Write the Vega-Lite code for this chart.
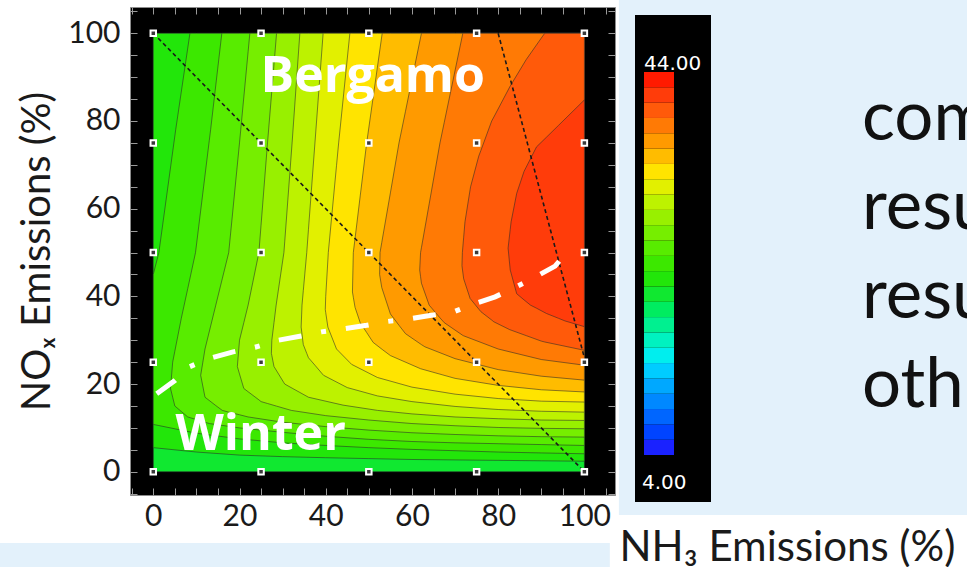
{
  "$schema": "https://vega.github.io/schema/vega-lite/v6.json",
  "width": 485,
  "height": 488,
  "autosize": {"type": "none"},
  "padding": {"left": 130, "top": 7, "right": 352, "bottom": 72},
  "background": "white",
  "view": {"fill": "black", "stroke": "#8c8c8c", "strokeWidth": 1},
  "resolve": {"axis": {"x": "independent", "y": "independent"}},
  "datasets": {
    "bands": [
      {"v": 20.8, "x": 0, "lo": 0, "hi": 100}, {"v": 20.8, "x": 100, "lo": 0, "hi": 100},
      {"v": 22.4, "x": 0, "lo": 5.5, "hi": 100}, {"v": 22.4, "x": 10, "lo": 4.5, "hi": 100}, {"v": 22.4, "x": 20, "lo": 3.8, "hi": 100}, {"v": 22.4, "x": 30, "lo": 3.45, "hi": 100}, {"v": 22.4, "x": 40, "lo": 3.2, "hi": 100}, {"v": 22.4, "x": 50, "lo": 3.0, "hi": 100}, {"v": 22.4, "x": 60, "lo": 2.8, "hi": 100}, {"v": 22.4, "x": 70, "lo": 2.7, "hi": 100}, {"v": 22.4, "x": 80, "lo": 2.6, "hi": 100}, {"v": 22.4, "x": 90, "lo": 2.5, "hi": 100}, {"v": 22.4, "x": 100, "lo": 2.4, "hi": 100},
      {"v": 24.0, "x": 0, "lo": 10.8, "hi": 45}, {"v": 24.0, "x": 1.3, "lo": 10.54, "hi": 50}, {"v": 24.0, "x": 5.2, "lo": 9.76, "hi": 78}, {"v": 24.0, "x": 8.5, "lo": 9.1, "hi": 100}, {"v": 24.0, "x": 10, "lo": 8.8, "hi": 100}, {"v": 24.0, "x": 20, "lo": 7.5, "hi": 100}, {"v": 24.0, "x": 30, "lo": 6.6, "hi": 100}, {"v": 24.0, "x": 40, "lo": 6.0, "hi": 100}, {"v": 24.0, "x": 50, "lo": 5.5, "hi": 100}, {"v": 24.0, "x": 60, "lo": 5.1, "hi": 100}, {"v": 24.0, "x": 70, "lo": 4.8, "hi": 100}, {"v": 24.0, "x": 80, "lo": 4.5, "hi": 100}, {"v": 24.0, "x": 90, "lo": 4.3, "hi": 100}, {"v": 24.0, "x": 100, "lo": 4.1, "hi": 100},
      {"v": 25.6, "x": 4.0, "lo": 19, "hi": 19}, {"v": 25.6, "x": 4.5, "lo": 17, "hi": 25}, {"v": 25.6, "x": 5, "lo": 15, "hi": 27.5}, {"v": 25.6, "x": 6.5, "lo": 13.75, "hi": 35}, {"v": 25.6, "x": 8, "lo": 12.5, "hi": 41.8}, {"v": 25.6, "x": 9.8, "lo": 11.96, "hi": 50}, {"v": 25.6, "x": 13, "lo": 11, "hi": 75.6}, {"v": 25.6, "x": 13.3, "lo": 10.96, "hi": 78}, {"v": 25.6, "x": 15.9, "lo": 10.59, "hi": 100}, {"v": 25.6, "x": 20, "lo": 10, "hi": 100}, {"v": 25.6, "x": 30, "lo": 9.0, "hi": 100}, {"v": 25.6, "x": 40, "lo": 8.1, "hi": 100}, {"v": 25.6, "x": 50, "lo": 7.4, "hi": 100}, {"v": 25.6, "x": 60, "lo": 6.9, "hi": 100}, {"v": 25.6, "x": 70, "lo": 6.6, "hi": 100}, {"v": 25.6, "x": 80, "lo": 6.4, "hi": 100}, {"v": 25.6, "x": 90, "lo": 6.2, "hi": 100}, {"v": 25.6, "x": 100, "lo": 6.0, "hi": 100},
      {"v": 27.2, "x": 11, "lo": 22, "hi": 22}, {"v": 27.2, "x": 12, "lo": 17, "hi": 28}, {"v": 27.2, "x": 14.5, "lo": 15.1, "hi": 38}, {"v": 27.2, "x": 16, "lo": 14, "hi": 44}, {"v": 27.2, "x": 17.5, "lo": 13.6, "hi": 50}, {"v": 27.2, "x": 20, "lo": 13, "hi": 75}, {"v": 27.2, "x": 22, "lo": 12.5, "hi": 95.8}, {"v": 27.2, "x": 22.4, "lo": 12.44, "hi": 100}, {"v": 27.2, "x": 30, "lo": 11.3, "hi": 100}, {"v": 27.2, "x": 40, "lo": 10.3, "hi": 100}, {"v": 27.2, "x": 50, "lo": 9.5, "hi": 100}, {"v": 27.2, "x": 60, "lo": 8.9, "hi": 100}, {"v": 27.2, "x": 70, "lo": 8.5, "hi": 100}, {"v": 27.2, "x": 80, "lo": 8.2, "hi": 100}, {"v": 27.2, "x": 90, "lo": 8.0, "hi": 100}, {"v": 27.2, "x": 100, "lo": 7.9, "hi": 100},
      {"v": 28.8, "x": 19.5, "lo": 24, "hi": 24}, {"v": 28.8, "x": 20, "lo": 22.3, "hi": 30}, {"v": 28.8, "x": 21, "lo": 19, "hi": 34}, {"v": 28.8, "x": 22, "lo": 18.25, "hi": 38}, {"v": 28.8, "x": 24.5, "lo": 16.4, "hi": 50}, {"v": 28.8, "x": 25, "lo": 16, "hi": 56.25}, {"v": 28.8, "x": 26.5, "lo": 15.57, "hi": 75}, {"v": 28.8, "x": 28.6, "lo": 14.97, "hi": 100}, {"v": 28.8, "x": 32, "lo": 14, "hi": 100}, {"v": 28.8, "x": 40, "lo": 12.8, "hi": 100}, {"v": 28.8, "x": 50, "lo": 11.8, "hi": 100}, {"v": 28.8, "x": 60, "lo": 11.0, "hi": 100}, {"v": 28.8, "x": 70, "lo": 10.5, "hi": 100}, {"v": 28.8, "x": 80, "lo": 10.1, "hi": 100}, {"v": 28.8, "x": 90, "lo": 9.9, "hi": 100}, {"v": 28.8, "x": 100, "lo": 9.8, "hi": 100},
      {"v": 30.4, "x": 27.4, "lo": 27, "hi": 27}, {"v": 30.4, "x": 27.5, "lo": 26.5, "hi": 30}, {"v": 30.4, "x": 28, "lo": 24, "hi": 34}, {"v": 30.4, "x": 28.5, "lo": 23.2, "hi": 38}, {"v": 30.4, "x": 30.3, "lo": 20.3, "hi": 50}, {"v": 30.4, "x": 30.5, "lo": 20, "hi": 52.6}, {"v": 30.4, "x": 32.2, "lo": 19.07, "hi": 75}, {"v": 30.4, "x": 34, "lo": 18.09, "hi": 100}, {"v": 30.4, "x": 36, "lo": 17, "hi": 100}, {"v": 30.4, "x": 44, "lo": 15.2, "hi": 100}, {"v": 30.4, "x": 52, "lo": 14, "hi": 100}, {"v": 30.4, "x": 60, "lo": 13.2, "hi": 100}, {"v": 30.4, "x": 70, "lo": 12.5, "hi": 100}, {"v": 30.4, "x": 80, "lo": 12.1, "hi": 100}, {"v": 30.4, "x": 90, "lo": 11.8, "hi": 100}, {"v": 30.4, "x": 100, "lo": 11.7, "hi": 100},
      {"v": 32.0, "x": 34.3, "lo": 33, "hi": 33}, {"v": 32.0, "x": 34.5, "lo": 31.4, "hi": 38}, {"v": 32.0, "x": 34.8, "lo": 29, "hi": 41.3}, {"v": 32.0, "x": 35.6, "lo": 27, "hi": 50}, {"v": 32.0, "x": 36, "lo": 26, "hi": 55.3}, {"v": 32.0, "x": 37.5, "lo": 24.3, "hi": 75}, {"v": 32.0, "x": 39.4, "lo": 22.1, "hi": 100}, {"v": 32.0, "x": 39.5, "lo": 22, "hi": 100}, {"v": 32.0, "x": 45, "lo": 19.2, "hi": 100}, {"v": 32.0, "x": 52, "lo": 17.3, "hi": 100}, {"v": 32.0, "x": 60, "lo": 16, "hi": 100}, {"v": 32.0, "x": 70, "lo": 14.9, "hi": 100}, {"v": 32.0, "x": 80, "lo": 14.2, "hi": 100}, {"v": 32.0, "x": 90, "lo": 13.8, "hi": 100}, {"v": 32.0, "x": 100, "lo": 13.6, "hi": 100},
      {"v": 33.6, "x": 39.9, "lo": 37, "hi": 37}, {"v": 33.6, "x": 40, "lo": 36.3, "hi": 40}, {"v": 33.6, "x": 40.5, "lo": 33, "hi": 48.3}, {"v": 33.6, "x": 40.6, "lo": 32.75, "hi": 50}, {"v": 33.6, "x": 42.5, "lo": 28, "hi": 69.8}, {"v": 33.6, "x": 43, "lo": 27.5, "hi": 75}, {"v": 33.6, "x": 45.6, "lo": 24.9, "hi": 100}, {"v": 33.6, "x": 46, "lo": 24.5, "hi": 100}, {"v": 33.6, "x": 52, "lo": 21.5, "hi": 100}, {"v": 33.6, "x": 60, "lo": 19.3, "hi": 100}, {"v": 33.6, "x": 70, "lo": 17.7, "hi": 100}, {"v": 33.6, "x": 80, "lo": 16.7, "hi": 100}, {"v": 33.6, "x": 90, "lo": 16.1, "hi": 100}, {"v": 33.6, "x": 100, "lo": 15.9, "hi": 100},
      {"v": 35.2, "x": 46.2, "lo": 41, "hi": 41}, {"v": 35.2, "x": 46.4, "lo": 39.8, "hi": 50}, {"v": 35.2, "x": 46.8, "lo": 37.5, "hi": 53.2}, {"v": 35.2, "x": 48, "lo": 34, "hi": 62.9}, {"v": 35.2, "x": 49.5, "lo": 31.75, "hi": 75}, {"v": 35.2, "x": 51, "lo": 29.5, "hi": 85.4}, {"v": 35.2, "x": 53.1, "lo": 27.9, "hi": 100}, {"v": 35.2, "x": 55, "lo": 26.5, "hi": 100}, {"v": 35.2, "x": 62, "lo": 23.5, "hi": 100}, {"v": 35.2, "x": 70, "lo": 21.3, "hi": 100}, {"v": 35.2, "x": 80, "lo": 19.7, "hi": 100}, {"v": 35.2, "x": 90, "lo": 18.7, "hi": 100}, {"v": 35.2, "x": 100, "lo": 18.2, "hi": 100},
      {"v": 36.8, "x": 52.5, "lo": 45, "hi": 45}, {"v": 36.8, "x": 52.6, "lo": 44.4, "hi": 50}, {"v": 36.8, "x": 53, "lo": 42, "hi": 52.3}, {"v": 36.8, "x": 55, "lo": 36, "hi": 63.6}, {"v": 36.8, "x": 57, "lo": 33.4, "hi": 75}, {"v": 36.8, "x": 58.5, "lo": 31.5, "hi": 82.2}, {"v": 36.8, "x": 62.2, "lo": 29.0, "hi": 100}, {"v": 36.8, "x": 63, "lo": 28.5, "hi": 100}, {"v": 36.8, "x": 70, "lo": 25.8, "hi": 100}, {"v": 36.8, "x": 80, "lo": 23.3, "hi": 100}, {"v": 36.8, "x": 90, "lo": 21.8, "hi": 100}, {"v": 36.8, "x": 100, "lo": 20.9, "hi": 100},
      {"v": 38.4, "x": 61.8, "lo": 46, "hi": 46}, {"v": 38.4, "x": 62, "lo": 44.5, "hi": 50}, {"v": 38.4, "x": 62.2, "lo": 43, "hi": 51.1}, {"v": 38.4, "x": 64, "lo": 38, "hi": 61.1}, {"v": 38.4, "x": 66.5, "lo": 35.1, "hi": 75}, {"v": 38.4, "x": 67.5, "lo": 34, "hi": 79.7}, {"v": 38.4, "x": 71.8, "lo": 31.1, "hi": 100}, {"v": 38.4, "x": 72, "lo": 31, "hi": 100}, {"v": 38.4, "x": 80, "lo": 28, "hi": 100}, {"v": 38.4, "x": 90, "lo": 25.6, "hi": 100}, {"v": 38.4, "x": 100, "lo": 24.3, "hi": 100},
      {"v": 40.0, "x": 71.6, "lo": 47, "hi": 47}, {"v": 40.0, "x": 71.7, "lo": 46.25, "hi": 50}, {"v": 40.0, "x": 72, "lo": 44, "hi": 53.5}, {"v": 40.0, "x": 72.3, "lo": 43.1, "hi": 57}, {"v": 40.0, "x": 73.5, "lo": 39.5, "hi": 64.4}, {"v": 40.0, "x": 73.6, "lo": 39.4, "hi": 65}, {"v": 40.0, "x": 75.5, "lo": 37.1, "hi": 72}, {"v": 40.0, "x": 76, "lo": 36.5, "hi": 73.3}, {"v": 40.0, "x": 78.5, "lo": 34.6, "hi": 80}, {"v": 40.0, "x": 79, "lo": 34.2, "hi": 80.9}, {"v": 40.0, "x": 82.7, "lo": 32.4, "hi": 87.8}, {"v": 40.0, "x": 83, "lo": 32.3, "hi": 88.3}, {"v": 40.0, "x": 86.5, "lo": 31.05, "hi": 94}, {"v": 40.0, "x": 90, "lo": 29.8, "hi": 98.9}, {"v": 40.0, "x": 90.8, "lo": 29.6, "hi": 100}, {"v": 40.0, "x": 100, "lo": 27.7, "hi": 100},
      {"v": 41.6, "x": 82.3, "lo": 51, "hi": 51}, {"v": 41.6, "x": 82.8, "lo": 46, "hi": 55.3}, {"v": 41.6, "x": 83, "lo": 45.3, "hi": 57}, {"v": 41.6, "x": 84.3, "lo": 40.6, "hi": 63.5}, {"v": 41.6, "x": 86, "lo": 39.2, "hi": 68.5}, {"v": 41.6, "x": 87.5, "lo": 38, "hi": 71.4}, {"v": 41.6, "x": 88.9, "lo": 37.3, "hi": 74.1}, {"v": 41.6, "x": 91.2, "lo": 36.1, "hi": 76.3}, {"v": 41.6, "x": 94, "lo": 35.0, "hi": 79}, {"v": 41.6, "x": 95.5, "lo": 34.4, "hi": 80.45}, {"v": 41.6, "x": 100, "lo": 33.1, "hi": 84.8}
    ],
    "dashed": [
      {"id": "a", "x": 0, "y": 100}, {"id": "a", "x": 100, "y": 0},
      {"id": "b", "x": 80, "y": 100}, {"id": "b", "x": 100, "y": 26}
    ],
    "ridge": [
      {"x": 0.8, "y": 17.8}, {"x": 5, "y": 20.8}, {"x": 8.3, "y": 23.9}, {"x": 12.9, "y": 25.8}, {"x": 18.3, "y": 27.3}, {"x": 23.6, "y": 28.4}, {"x": 29, "y": 30}, {"x": 34, "y": 30.9}, {"x": 39, "y": 31.9}, {"x": 44, "y": 32.6}, {"x": 49.5, "y": 33.4}, {"x": 54.5, "y": 34.3}, {"x": 59.5, "y": 34.9}, {"x": 64.5, "y": 35.7}, {"x": 69.5, "y": 36.4}, {"x": 74.7, "y": 38.4}, {"x": 79.3, "y": 39.9}, {"x": 83.8, "y": 42}, {"x": 88.6, "y": 44.4}, {"x": 93.2, "y": 46.9}, {"x": 96.5, "y": 50.8}
    ],
    "runs": [
      {"x": 0, "y": 0}, {"x": 0, "y": 25}, {"x": 0, "y": 50}, {"x": 0, "y": 75}, {"x": 0, "y": 100},
      {"x": 25, "y": 0}, {"x": 25, "y": 25}, {"x": 25, "y": 50}, {"x": 25, "y": 75}, {"x": 25, "y": 100},
      {"x": 50, "y": 0}, {"x": 50, "y": 25}, {"x": 50, "y": 50}, {"x": 50, "y": 75}, {"x": 50, "y": 100},
      {"x": 75, "y": 0}, {"x": 75, "y": 25}, {"x": 75, "y": 50}, {"x": 75, "y": 75}, {"x": 75, "y": 100},
      {"x": 100, "y": 0}, {"x": 100, "y": 25}, {"x": 100, "y": 50}, {"x": 100, "y": 75}, {"x": 100, "y": 100}
    ],
    "names": [
      {"t": "Bergamo", "x": 50.9, "y": 86.7},
      {"t": "Winter", "x": 24.9, "y": 4.9}
    ],
    "slide": [
      {"t": "com", "x": 164.4, "y": 75.7},
      {"t": "resu", "x": 164.4, "y": 55.4},
      {"t": "resu", "x": 164.4, "y": 35.1},
      {"t": "oth", "x": 164.4, "y": 14.8}
    ]
  },
  "layer": [
    {
      "data": {"name": "bands"},
      "mark": {"type": "area", "stroke": "#2a2a2a", "strokeWidth": 0.8, "strokeOpacity": 0.7, "fillOpacity": 1},
      "encoding": {
        "x": {
          "field": "x", "type": "quantitative",
          "scale": {"domain": [-5.4, 107.1], "nice": false, "zero": false},
          "axis": {
            "title": "NH₃ Emissions (%)",
            "values": [-5, 0, 5, 10, 15, 20, 25, 30, 35, 40, 45, 50, 55, 60, 65, 70, 75, 80, 85, 90, 95, 100, 105],
            "labelExpr": "(datum.value == 0 || datum.value == 20 || datum.value == 40 || datum.value == 60 || datum.value == 80 || datum.value == 100) ? datum.label : ''",
            "offset": -7, "tickSize": 7, "tickColor": "#9a9a9a", "tickWidth": 1,
            "domain": false, "grid": false, "labelOverlap": false, "labelFlush": false,
            "labelFont": "Lato", "labelFontSize": 30, "labelColor": "#1a1a1a", "labelPadding": 6,
            "titleFont": "Lato", "titleFontSize": 42, "titleFontWeight": "normal", "titleColor": "#1a1a1a",
            "titleAlign": "left", "titleBaseline": "alphabetic", "titleAnchor": "start", "titleX": 489, "titleY": 72
          }
        },
        "y": {
          "field": "lo", "type": "quantitative",
          "scale": {"domain": [-5.3, 106.0], "nice": false, "zero": false},
          "axis": {
            "title": "NOₓ Emissions (%)",
            "values": [-5, 0, 5, 10, 15, 20, 25, 30, 35, 40, 45, 50, 55, 60, 65, 70, 75, 80, 85, 90, 95, 100, 105],
            "labelExpr": "(datum.value == 0 || datum.value == 20 || datum.value == 40 || datum.value == 60 || datum.value == 80 || datum.value == 100) ? datum.label : ''",
            "offset": -7, "tickSize": 7, "tickColor": "#9a9a9a", "tickWidth": 1,
            "domain": false, "grid": false, "labelOverlap": false, "labelFlush": false,
            "labelFont": "Lato", "labelFontSize": 30, "labelColor": "#1a1a1a", "labelPadding": 10,
            "titleFont": "Lato", "titleFontSize": 40, "titleFontWeight": "normal", "titleColor": "#1a1a1a",
            "titlePadding": 10
          }
        },
        "y2": {"field": "hi"},
        "color": {
          "field": "v", "type": "quantitative",
          "scale": {
            "type": "quantize", "domain": [4, 44],
            "range": ["#1a22ff", "#0044ff", "#0066ff", "#0088ff", "#00a8ff", "#00ccff", "#00eeee", "#00f2c0", "#00f090", "#00ec60", "#10e830", "#22e60a", "#3ce800", "#58ec00", "#76ee00", "#98f000", "#bdf200", "#e2f000", "#ffe400", "#ffbc00", "#ff9a00", "#ff7a05", "#ff5a0a", "#ff3c0a", "#ff1a00"]
          },
          "legend": {
            "type": "gradient", "orient": "none", "legendX": 505, "legendY": 8, "direction": "vertical",
            "gradientLength": 383, "gradientThickness": 30, "gradientStrokeWidth": 0,
            "fillColor": "black", "padding": 9,
            "title": [" ", " ", "44.00"],
            "titleColor": "white", "titleFont": "DejaVu Sans", "titleFontSize": 20, "titleFontWeight": "normal",
            "titleLineHeight": 30, "titlePadding": -32,
            "labelExpr": "datum.value < 5 ? '4.00' : ''",
            "labelColor": "white", "labelFont": "DejaVu Sans", "labelFontSize": 20,
            "labelOffset": -32, "labelOverlap": false,
            "encode": {"labels": {"update": {"baseline": {"value": "top"}, "dy": {"value": 18}}}}
          }
        }
      }
    },
    {
      "data": {"values": [{}]},
      "mark": {"type": "rect", "color": "#e3f1fb"},
      "encoding": {
        "x": {"datum": 108, "axis": null}, "x2": {"datum": 240},
        "y": {"datum": -9.85, "axis": null}, "y2": {"datum": 130}
      }
    },
    {
      "data": {"values": [{}]},
      "mark": {"type": "rect", "color": "#e3f1fb"},
      "encoding": {
        "x": {"datum": -60, "axis": null}, "x2": {"datum": 105.9},
        "y": {"datum": -40, "axis": null}, "y2": {"datum": -16.24}
      }
    },
    {
      "data": {"name": "dashed"},
      "mark": {"type": "line", "stroke": "#1a1a1a", "strokeWidth": 1.6, "strokeDash": [4, 3]},
      "encoding": {
        "x": {"field": "x", "type": "quantitative", "axis": null},
        "y": {"field": "y", "type": "quantitative", "axis": null},
        "detail": {"field": "id"}
      }
    },
    {
      "data": {"name": "ridge"},
      "mark": {"type": "line", "stroke": "white", "strokeWidth": 5, "strokeDash": [23, 20, 5, 20], "strokeCap": "butt"},
      "encoding": {
        "x": {"field": "x", "type": "quantitative", "axis": null},
        "y": {"field": "y", "type": "quantitative", "axis": null}
      }
    },
    {
      "data": {"name": "runs"},
      "mark": {"type": "point", "shape": "square", "size": 30, "filled": true, "fill": "#3a3a3a", "stroke": "white", "strokeWidth": 2, "opacity": 1},
      "encoding": {
        "x": {
          "field": "x", "type": "quantitative",
          "axis": {
            "orient": "top", "title": null, "labels": false, "domain": false, "grid": false,
            "values": [-5, 0, 5, 10, 15, 20, 25, 30, 35, 40, 45, 50, 55, 60, 65, 70, 75, 80, 85, 90, 95, 100, 105],
            "offset": -7, "tickSize": 7, "tickColor": "#9a9a9a", "tickWidth": 1
          }
        },
        "y": {
          "field": "y", "type": "quantitative",
          "axis": {
            "orient": "right", "title": null, "labels": false, "domain": false, "grid": false,
            "values": [-5, 0, 5, 10, 15, 20, 25, 30, 35, 40, 45, 50, 55, 60, 65, 70, 75, 80, 85, 90, 95, 100, 105],
            "offset": -7, "tickSize": 7, "tickColor": "#9a9a9a", "tickWidth": 1
          }
        }
      }
    },
    {
      "data": {"name": "names"},
      "mark": {"type": "text", "font": "Open Sans", "fontWeight": "bold", "fontSize": 50, "color": "white", "align": "center", "baseline": "alphabetic"},
      "encoding": {
        "x": {"field": "x", "type": "quantitative", "axis": null},
        "y": {"field": "y", "type": "quantitative", "axis": null},
        "text": {"field": "t"}
      }
    },
    {
      "data": {"name": "slide"},
      "mark": {"type": "text", "font": "Lato", "fontSize": 69, "color": "#111111", "align": "left", "baseline": "alphabetic"},
      "encoding": {
        "x": {"field": "x", "type": "quantitative", "axis": null},
        "y": {"field": "y", "type": "quantitative", "axis": null},
        "text": {"field": "t"}
      }
    }
  ]
}
